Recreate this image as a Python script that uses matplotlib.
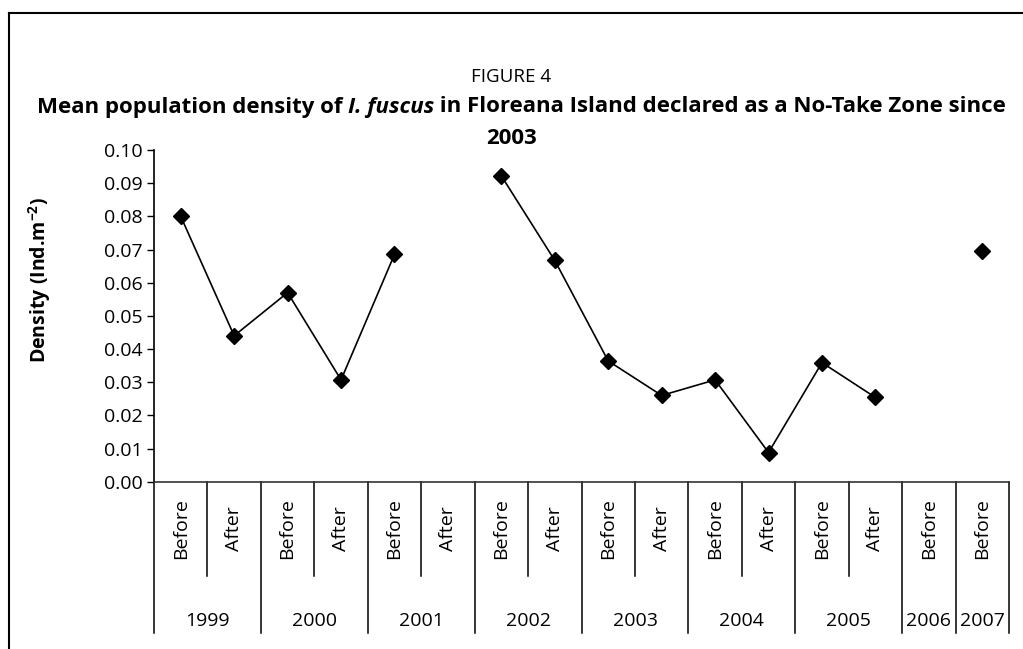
import numpy as np
import matplotlib
matplotlib.use('Agg')
import matplotlib.pyplot as plt
from matplotlib.lines import Line2D

plt.rcParams['font.family'] = ['Open Sans', 'DejaVu Sans']
plt.rcParams['mathtext.fontset'] = 'custom'
plt.rcParams['mathtext.rm'] = 'Open Sans:bold'
plt.rcParams['mathtext.bf'] = 'Open Sans:bold'

years = ['1999', '2000', '2001', '2002', '2003', '2004', '2005', '2006', '2007']
periods = [['Before', 'After'], ['Before', 'After'], ['Before', 'After'],
           ['Before', 'After'], ['Before', 'After'], ['Before', 'After'],
           ['Before', 'After'], ['Before'], ['Before']]
density = [0.080, 0.044, 0.057, 0.0307, 0.0685, np.nan,
           0.0922, 0.0667, 0.0364, 0.026, 0.0307, 0.0088,
           0.0359, 0.0254, np.nan, 0.0696]

W, H = 1023, 649
fig = plt.figure(figsize=(W / 100, H / 100), dpi=100)
ax = fig.add_axes([154 / W, 1 - 481.7 / H, (1009 - 154) / W, 331.7 / H])

x = np.arange(len(density))
ax.plot(x, density, color='black', lw=1.2, marker='D', ms=8,
        mec='black', mfc='black')

ax.set_xlim(-0.5, len(density) - 0.5)
ax.set_ylim(0, 0.10)
ax.set_yticks(np.arange(0, 0.1001, 0.01))
ax.set_yticklabels(['%.2f' % v for v in np.arange(0, 0.1001, 0.01)])
ax.tick_params(axis='y', direction='out', length=5, width=1,
               labelsize=14, pad=3)
ax.set_xticks([])
for s in ['top', 'right']:
    ax.spines[s].set_visible(False)
ax.spines['left'].set_linewidth(1.2)
ax.spines['bottom'].set_linewidth(1.2)
ax.spines['bottom'].set_color('#333333')

# category labels and separators under the axis
tr = ax.get_xaxis_transform()
pos = 0
for yr, per in zip(years, periods):
    start = pos
    for i, p in enumerate(per):
        ax.text(pos, -0.14, p, rotation=90, ha='center', va='center',
                fontsize=14, transform=tr)
        if i > 0:
            ax.add_line(Line2D([pos - 0.5] * 2, [0, -0.284], transform=tr,
                               color='black', lw=1.1, clip_on=False))
        pos += 1
    ax.text((start + pos - 1) / 2, -0.42, yr, ha='center', va='center',
            fontsize=14, transform=tr)
    ax.add_line(Line2D([start - 0.5] * 2, [0, -0.456], transform=tr,
                       color='black', lw=1.1, clip_on=False))
ax.add_line(Line2D([pos - 0.5] * 2, [0, -0.456], transform=tr,
                   color='black', lw=1.1, clip_on=False))

fig.text(40 / W, 1 - 280 / H, r'Density (Ind.m$^{\mathbf{-2}}$)',
         rotation=90, ha='center', va='center', fontsize=14,
         fontweight='bold')

# title
fig.text(0.5, 1 - 77 / H, 'FIGURE 4', ha='center', va='center', fontsize=13.5)
pieces = [('Mean population density of ', 'normal'),
          ('I. fuscus', 'italic'),
          (' in Floreana Island declared as a No-Take Zone since', 'normal')]
fs = 16
texts = [fig.text(0, 1 - 107 / H, t, ha='left', va='center', fontsize=fs,
                  fontweight='bold', fontstyle=st) for t, st in pieces]
fig.canvas.draw()
r = fig.canvas.get_renderer()
widths = [t.get_window_extent(r).width for t in texts]
xx = 521.5 - sum(widths) / 2
for t, w in zip(texts, widths):
    t.set_x(xx / W)
    xx += w
fig.text(0.5, 1 - 138 / H, '2003', ha='center', va='center', fontsize=fs,
         fontweight='bold')

# outer frame (top and left edges)
fig.add_artist(Line2D([9 / W, 1], [1 - 13 / H] * 2, color='black', lw=1.5,
                      transform=fig.transFigure))
fig.add_artist(Line2D([9 / W] * 2, [0, 1 - 13 / H], color='black', lw=1.5,
                      transform=fig.transFigure))

fig.savefig('out.png', dpi=100)
